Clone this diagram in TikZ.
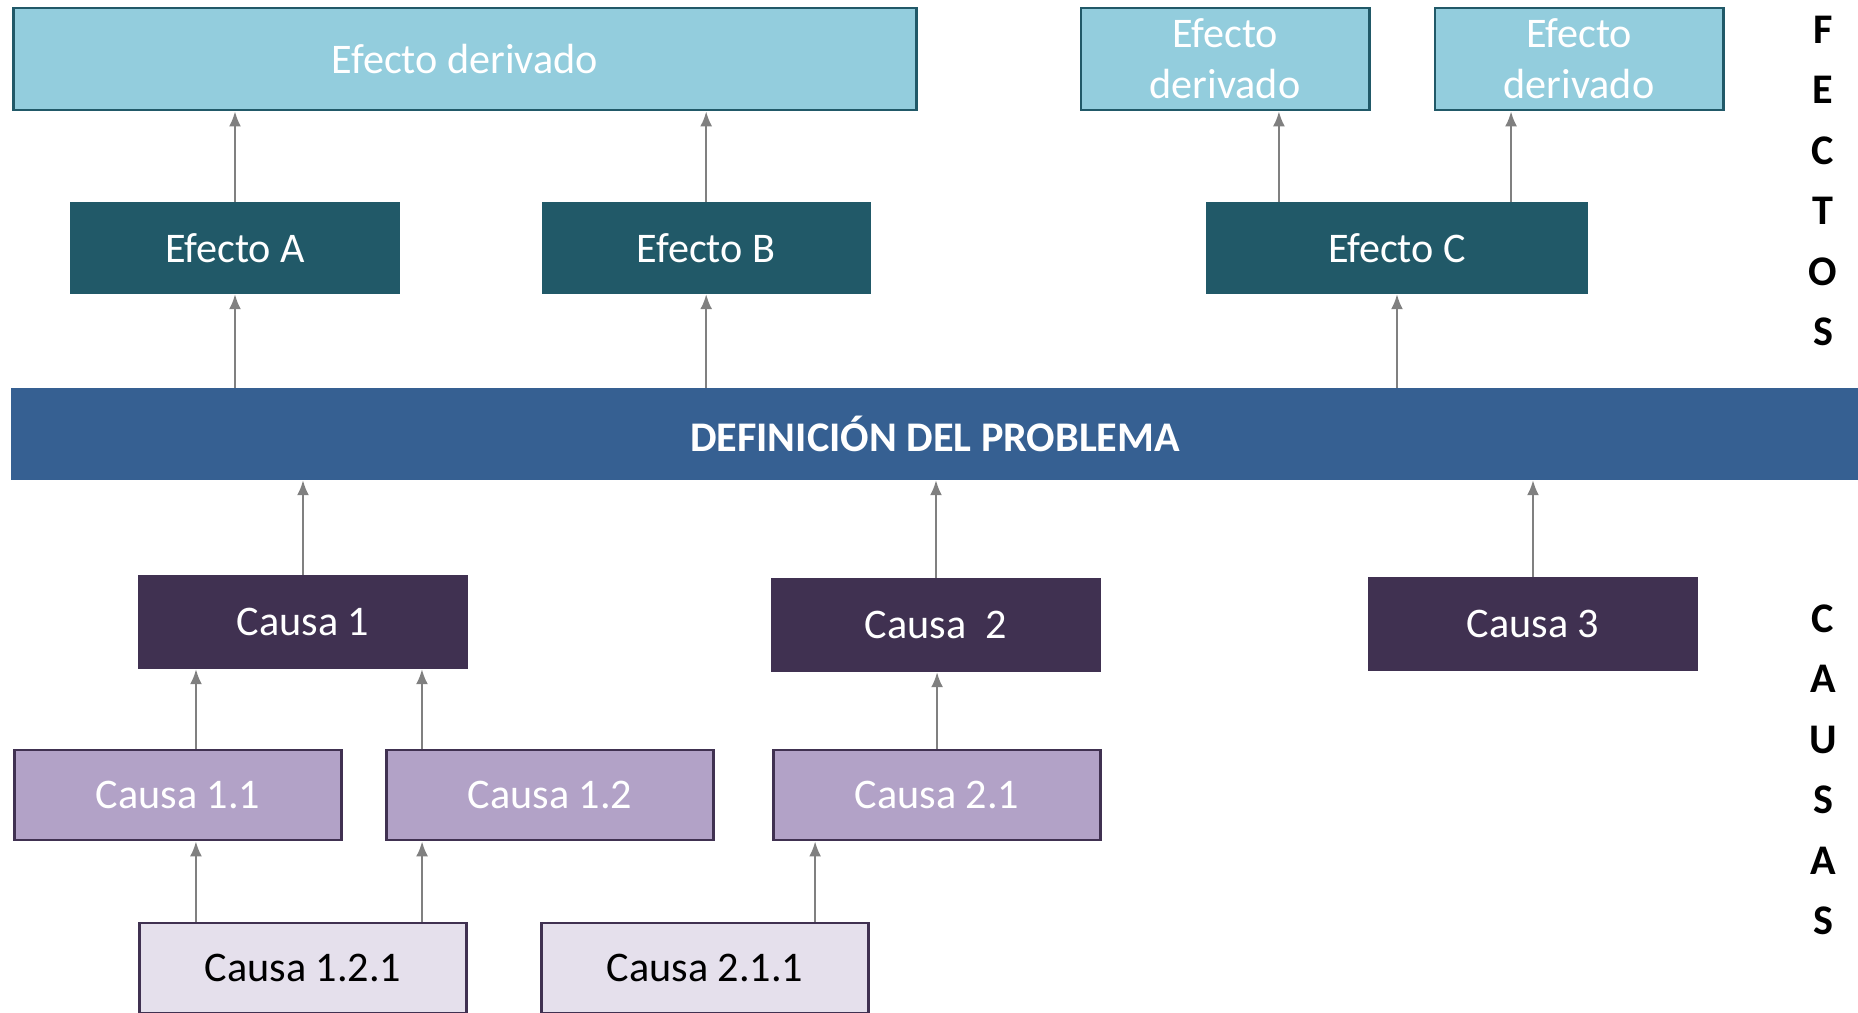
\documentclass[tikz,border=0pt]{standalone}
\usepackage{fontspec}
\setmainfont{Carlito}
\usetikzlibrary{positioning,arrows.meta}
\definecolor{derivfill}{HTML}{93CDDD}
\definecolor{efecfill}{HTML}{215968}
\definecolor{probfill}{HTML}{366092}
\definecolor{causafill}{HTML}{403151}
\definecolor{subfill}{HTML}{B2A2C7}
\definecolor{subsubfill}{HTML}{E5E0EC}
\definecolor{arrgray}{HTML}{808080}

\begin{document}
\begin{tikzpicture}[x=0.01cm, y=-0.01cm,
box/.style={rectangle, inner sep=0pt, text=white, font=\fontsize{12}{14.6}\selectfont, align=center},
deriv/.style={box, fill=derivfill, draw=efecfill, line width=0.8pt, minimum height=1.02cm},
efec/.style={box, fill=efecfill, minimum width=3.29cm, minimum height=0.91cm},
causa/.style={box, fill=causafill, minimum width=3.29cm, minimum height=0.93cm},
subcausa/.style={box, fill=subfill, draw=causafill, line width=0.8pt, minimum width=3.27cm, minimum height=0.90cm},
subsub/.style={subcausa, fill=subsubfill, text=black},
arr/.style={draw=arrgray, line width=0.6pt, -{Latex[length=1.5mm,width=1.2mm]}},
side/.style={font=\bfseries\fontsize{12}{17.2}\selectfont, align=center},
]
\useasboundingbox (0,0) rectangle (1858,1013);

% derived effects
\node[deriv, minimum width=9.02cm] (derivA) at (465,59) {Efecto derivado};
\node[deriv, minimum width=2.88cm] (derivB) at (1225,59) {Efecto\\derivado};
\node[deriv, minimum width=2.88cm, right=6.3mm of derivB] (derivC) {Efecto\\derivado};

% effects
\node[efec] (efA) at (235,248) {Efecto A};
\node[efec, right=1.405cm of efA] (efB) {Efecto B};
\node[efec, minimum width=3.81cm, right=3.34cm of efB] (efC) {Efecto C};
\draw[arr] (efA.north) -- (efA.north |- derivA.south);
\draw[arr] (efB.north) -- (efB.north |- derivA.south);
\draw[arr] ([xshift=-1.18cm]efC.north) -- ([xshift=-1.18cm]efC.north |- derivB.south);
\draw[arr] ([xshift=1.14cm]efC.north) -- ([xshift=1.14cm]efC.north |- derivC.south);

%%% the problem
\node[box, fill=probfill, minimum width=18.46cm, minimum height=0.91cm, font=\bfseries\fontsize{12}{14.6}\selectfont] (prob) at (935,434) {DEFINICIÓN DEL PROBLEMA};
\draw[arr] (efA |- prob.north) -- (efA.south);
\draw[arr] (efB |- prob.north) -- (efB.south);
\draw[arr] (efC |- prob.north) -- (efC.south);

% causes
\node[causa] (c1) at (303,622) {Causa 1};
\node[causa] (c2) at (936,625) {Causa\ \ 2};
\node[causa] (c3) at (1533,624) {Causa 3};
\draw[arr] (c1.north) -- (c1 |- prob.south);
\draw[arr] (c2.north) -- (c2 |- prob.south);
\draw[arr] (c3.north) -- (c3 |- prob.south);

% sub causes
\node[subcausa] (c11) at (178,795) {Causa 1.1};
\node[subcausa, right=4.2mm of c11] (c12) {Causa 1.2};
\node[subcausa, right=5.7mm of c12] (c21) {Causa 2.1};
\draw[arr] ([xshift=1.8mm]c11.north) -- ([xshift=1.8mm]c11.north |- c1.south);
\draw[arr] ([xshift=-1.28cm]c12.north) -- ([xshift=-1.28cm]c12.north |- c1.south);
\draw[arr] (c21.north) -- (c21.north |- c2.south);

% sub sub causes
\node[subsub] (c121) at (303,968) {Causa 1.2.1};
\node[subsub, right=7.2mm of c121] (c211) {Causa 2.1.1};
\draw[arr] ([xshift=-1.07cm]c121.north) -- ([xshift=-1.07cm]c121.north |- c11.south);
\draw[arr] ([xshift=1.19cm]c121.north) -- ([xshift=1.19cm]c121.north |- c12.south);
\draw[arr] ([xshift=1.1cm]c211.north) -- ([xshift=1.1cm]c211.north |- c21.south);

% side labels
\node[side] (efectos) at (1823,181) {F\\E\\C\\T\\O\\S};
\node[side] (causas) at (1823,770) {C\\A\\U\\S\\A\\S};
\end{tikzpicture}
\end{document}
